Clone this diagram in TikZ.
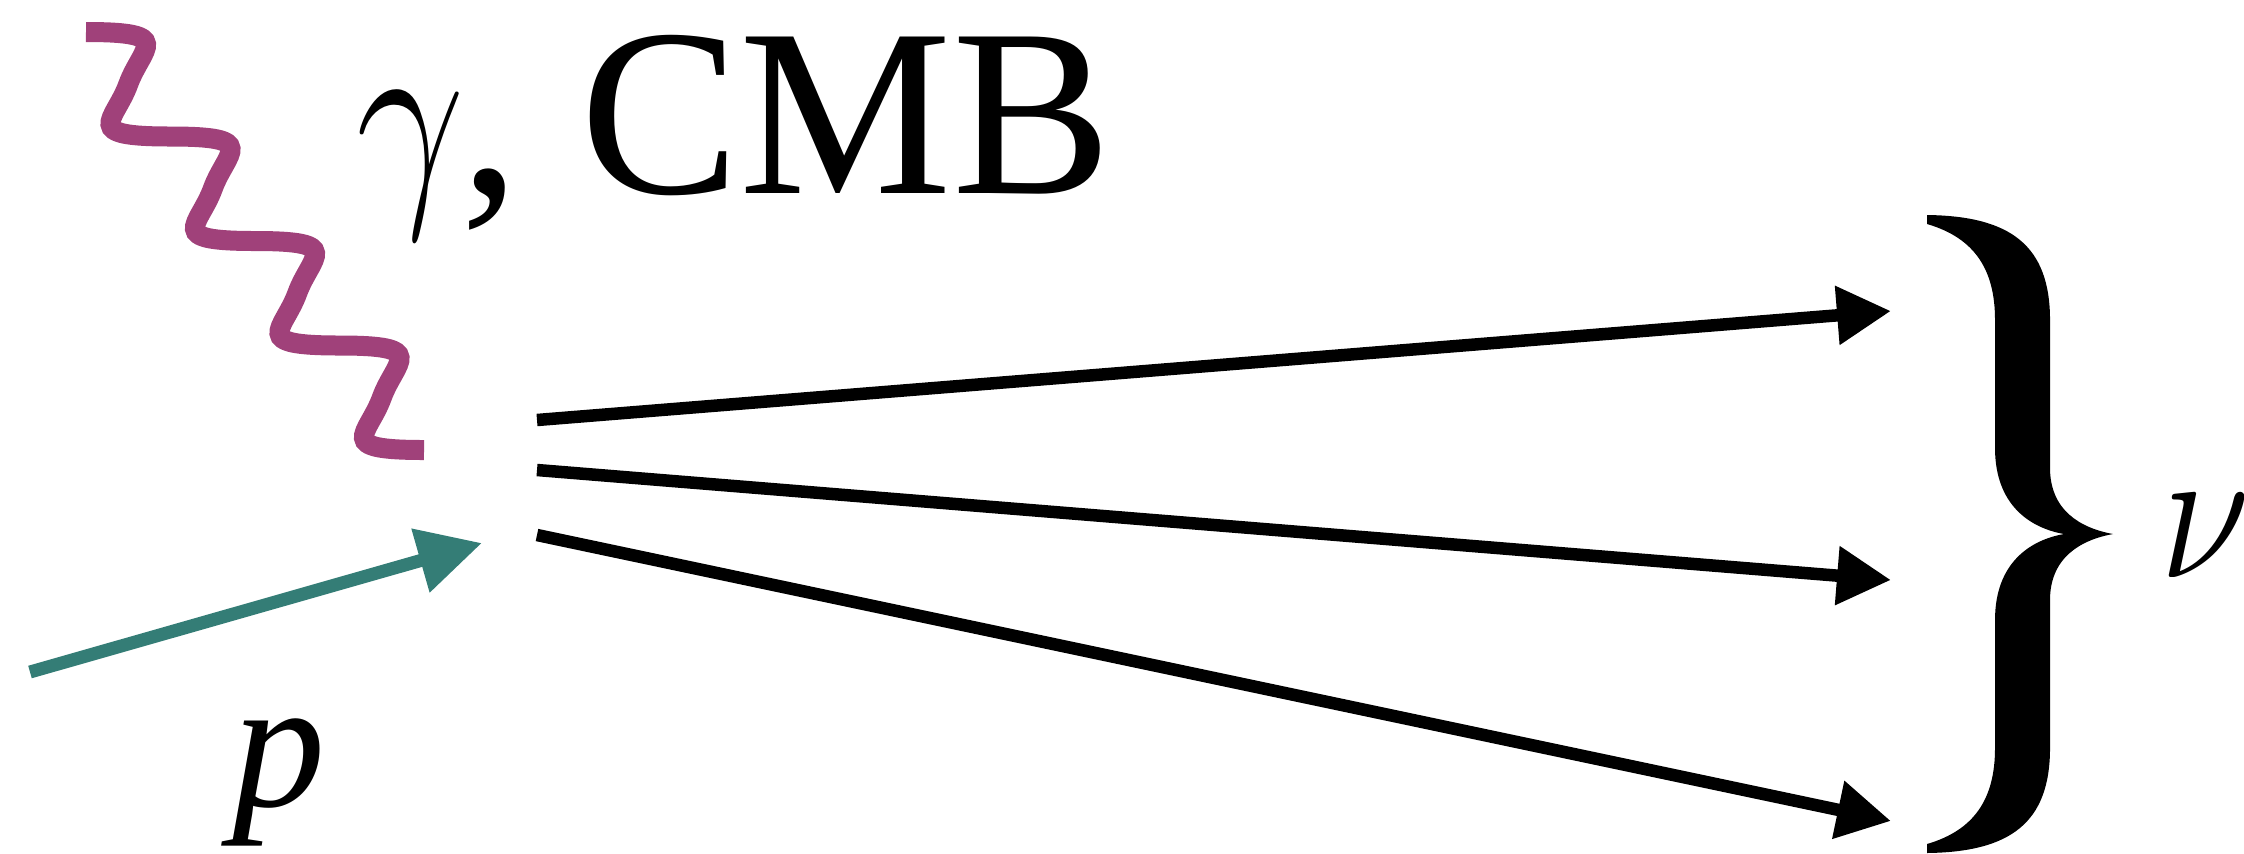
\RequirePackage{fix-cm}
\documentclass[tikz,border=0pt]{standalone}
\usepackage{graphicx}
\usepackage{fontspec}
\setmainfont{Liberation Serif}
\usetikzlibrary{arrows.meta}
\definecolor{photon}{RGB}{160,65,122}
\definecolor{proton}{RGB}{52,125,118}

\begin{document}
\begin{tikzpicture}[x=0.1mm,y=-0.1mm,
  nu/.style={line width=1.25mm,-{Triangle[length=5.4mm,width=5.6mm]}},
  lbl/.style={anchor=base west,inner sep=0pt}]
  \useasboundingbox (0,0) rectangle (2244,853);
  \def\dx{42.25} \def\dy{52.25}
  \draw[photon,line width=2mm] (86,32) \foreach \i in {1,...,4}{
      .. controls +(90,0) and +(13.7,-37.6) .. ++(\dx,\dy)
      .. controls +(-13.7,37.6) and +(-90,0) .. ++(\dx,\dy)};
  \coordinate (pstart) at (30,672);
  \coordinate (pend) at (482,543);
  \draw[proton,line width=1.3mm,-{Triangle[length=6.4mm,width=6.3mm]}] (pstart) -- (pend);
  \foreach \n/\ya/\yb in {1/420/311,2/470/580,3/535/821}{
    \coordinate (s\n) at (537,\ya);
    \coordinate (t\n) at (1891,\yb);
    \draw[nu] (s\n) -- (t\n);
  }
  \node[lbl,font=\fontsize{67}{72}\selectfont] (gam) at (356,193) {\scalebox{0.82}[1]{$\gamma$}};
  \node[lbl,font=\fontsize{68}{72}\selectfont] (cmb) at (460,193) {, CMB};
  \node[lbl,font=\fontsize{53}{60}\selectfont\itshape] (plbl) at (232,806) {p};
  \node[lbl,font=\fontsize{55}{60}\selectfont] (nulbl) at (2160,577) {\scalebox{0.85}[1]{$\nu$}};
  \fill (1927,215) .. controls (2010,216) and (2050,245) .. (2050,320)
    -- (2050,468) .. controls (2050,510) and (2080,528) .. (2113,534)
    .. controls (2080,540) and (2050,558) .. (2050,600)
    -- (2050,748) .. controls (2050,823) and (2010,852) .. (1927,853)
    -- (1927,844) .. controls (1975,830) and (1995,798) .. (1995,748)
    -- (1995,620) .. controls (1995,563) and (2030,540) .. (2064,534)
    .. controls (2030,528) and (1995,505) .. (1995,448)
    -- (1995,320) .. controls (1995,270) and (1975,238) .. (1927,224) -- cycle;
\end{tikzpicture}
\end{document}
